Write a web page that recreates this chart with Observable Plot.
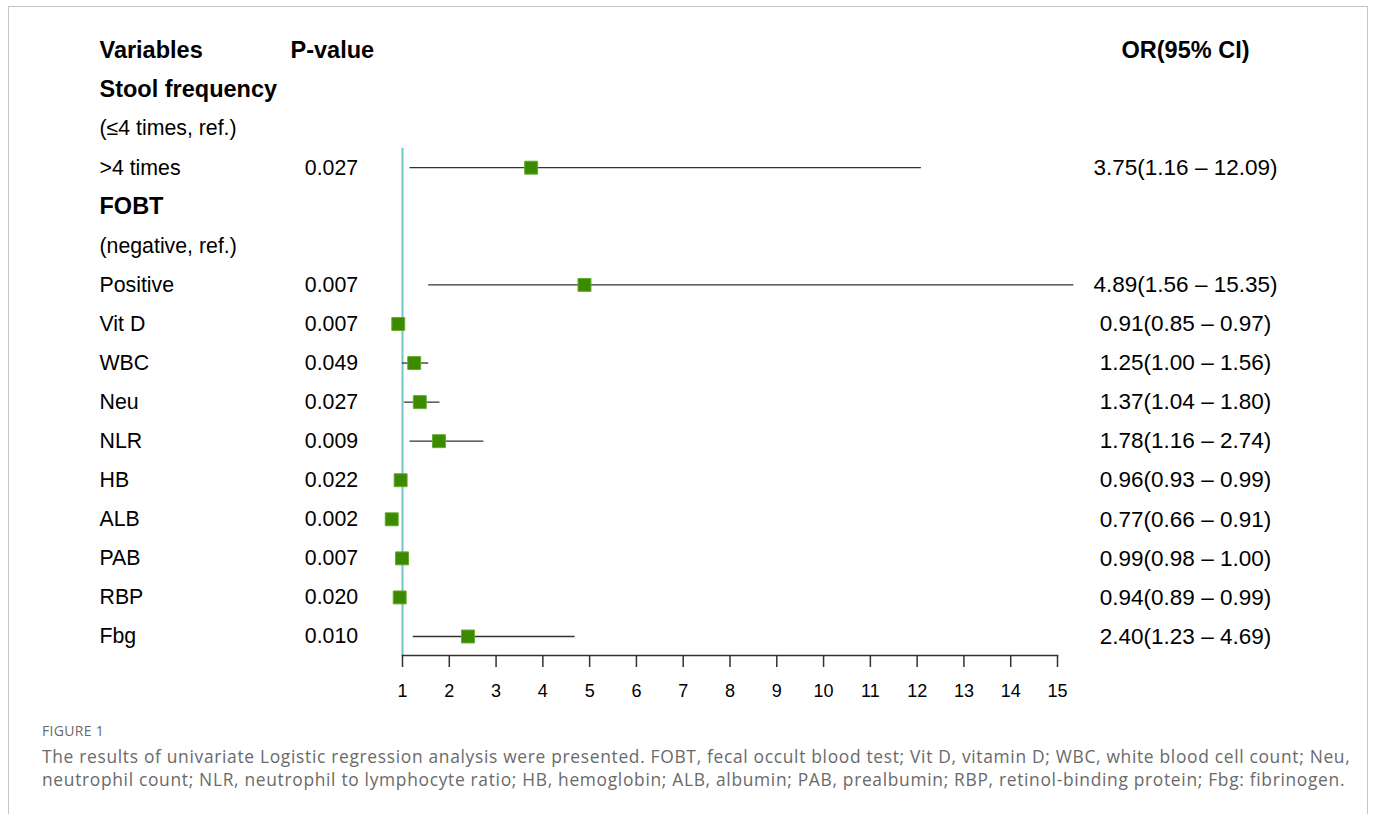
<!DOCTYPE html>
<html>
<head>
<meta charset="utf-8">
<script src="https://cdn.jsdelivr.net/npm/d3@7"></script>
<script src="https://cdn.jsdelivr.net/npm/@observablehq/plot@0.6"></script>
<style>
  html, body { margin: 0; padding: 0; background: #fff; }
  body { width: 1375px; height: 814px; position: relative; overflow: hidden; }
  #frame { position: absolute; left: 8px; top: 6px; width: 1360px; height: 820px;
           border: 1px solid #c4c4c4; box-sizing: border-box; }
  #chart { position: absolute; left: 0; top: 0; }
  #figlabel { position: absolute; left: 42px; top: 721px; font-family: "Open Sans", sans-serif;
              font-size: 14px; color: #6a6a6a; letter-spacing: 0.3px; }
  #caption { position: absolute; left: 42px; top: 745px; font-family: "Open Sans", sans-serif;
             font-size: 17.4px; line-height: 23px; color: #6a6a6a; letter-spacing: 0.68px; white-space: nowrap; }
</style>
</head>
<body>
<div id="frame"></div>
<div id="chart"></div>
<div id="figlabel">FIGURE 1</div>
<div id="caption">The results of univariate Logistic regression analysis were presented. FOBT, fecal occult blood test; Vit D, vitamin D; WBC, white blood cell count; Neu,<br>neutrophil count; NLR, neutrophil to lymphocyte ratio; HB, hemoglobin; ALB, albumin; PAB, prealbumin; RBP, retinol-binding protein; Fbg: fibrinogen.</div>
<script>
const headers = ["Variables", "P-value", "OR(95% CI)"];
const labels = ["Stool frequency", "(≤4 times, ref.)", ">4 times", "FOBT", "(negative, ref.)", "Positive",
  "Vit D", "WBC", "Neu", "NLR", "HB", "ALB", "PAB", "RBP", "Fbg"];
const groupRow = [true, false, false, true, false, false, false, false, false, false, false, false, false, false, false];
const pValues = [null, null, "0.027", null, null, "0.007", "0.007", "0.049", "0.027", "0.009", "0.022", "0.002", "0.007", "0.020", "0.010"];
const oddsRatio = [null, null, 3.75, null, null, 4.89, 0.91, 1.25, 1.37, 1.78, 0.96, 0.77, 0.99, 0.94, 2.40];
const ciLower = [null, null, 1.16, null, null, 1.56, 0.85, 1.00, 1.04, 1.16, 0.93, 0.66, 0.98, 0.89, 1.23];
const ciUpper = [null, null, 12.09, null, null, 15.35, 0.97, 1.56, 1.80, 2.74, 0.99, 0.91, 1.00, 0.99, 4.69];
const xTicks = d3.range(1, 16);
const refValue = 1;
const refStartRow = 2.5;
const refEndRow = 15.49;

const rows = labels.map((label, k) => ({
  row: k + 1, label, group: groupRow[k], p: pValues[k],
  or: oddsRatio[k], lo: ciLower[k], hi: ciUpper[k]
}));
const estRows = rows.filter(d => d.or != null);
const fmt = v => v.toFixed(2);
estRows.forEach(d => d.text = `${fmt(d.or)}(${fmt(d.lo)} – ${fmt(d.hi)})`);

const font = "'Liberation Sans', Arial, sans-serif";

const chart = Plot.plot({
  width: 1375,
  height: 712,
  marginLeft: 402,
  marginRight: 318,
  marginTop: 20,
  marginBottom: 57,
  style: { fontFamily: font, color: "#000", background: "transparent" },
  x: { domain: [1, 15], label: null },
  y: { domain: [0, 15], range: [50, 636], axis: null },
  marks: [
    Plot.ruleX([refValue], { x: d => d, y1: refStartRow, y2: refEndRow, stroke: "#74c4cc", strokeWidth: 2 }),
    Plot.frame({ anchor: "bottom", stroke: "#333", strokeWidth: 1.5 }),
    Plot.axisX({ ticks: xTicks, tickFormat: d => String(d), tickSize: 12, tickPadding: 17, fontSize: 18,
                 stroke: "#333", strokeWidth: 1.5, fill: "#000", label: null }),
    // header row
    Plot.text([headers[0]], { y: () => 0, text: d => d, frameAnchor: "left", dx: -303, textAnchor: "start", fontSize: 23.5, fontWeight: "bold" }),
    Plot.text([headers[1]], { y: () => 0, text: d => d, frameAnchor: "left", dx: -112, textAnchor: "start", fontSize: 23.5, fontWeight: "bold" }),
    Plot.text([headers[2]], { y: () => 0, text: d => d, frameAnchor: "right", dx: 128, textAnchor: "middle", fontSize: 23.5, fontWeight: "bold" }),
    // variable labels
    Plot.text(rows.filter(d => d.group), { y: "row", text: "label", frameAnchor: "left", dx: -303, textAnchor: "start", fontSize: 23.5, fontWeight: "bold" }),
    Plot.text(rows.filter(d => !d.group), { y: "row", text: "label", frameAnchor: "left", dx: -303, textAnchor: "start", fontSize: 21.3 }),
    // p-values
    Plot.text(rows.filter(d => d.p), { y: "row", text: "p", frameAnchor: "left", dx: -71, textAnchor: "middle", fontSize: 21.3 }),
    // OR text
    Plot.text(estRows, { y: "row", text: "text", frameAnchor: "right", dx: 128, textAnchor: "middle", fontSize: 22.5 }),
    // CI lines
    Plot.ruleY(estRows, { y: "row", x1: "lo", x2: "hi", stroke: "#333", strokeWidth: 1.3 }),
    // point estimates
    Plot.dot(estRows, { x: "or", y: "row", symbol: "square", r: 7.3, fill: "#3c8a00", stroke: "#62ad2c", strokeWidth: 1 })
  ]
});
document.getElementById("chart").appendChild(chart);
</script>
</body>
</html>
